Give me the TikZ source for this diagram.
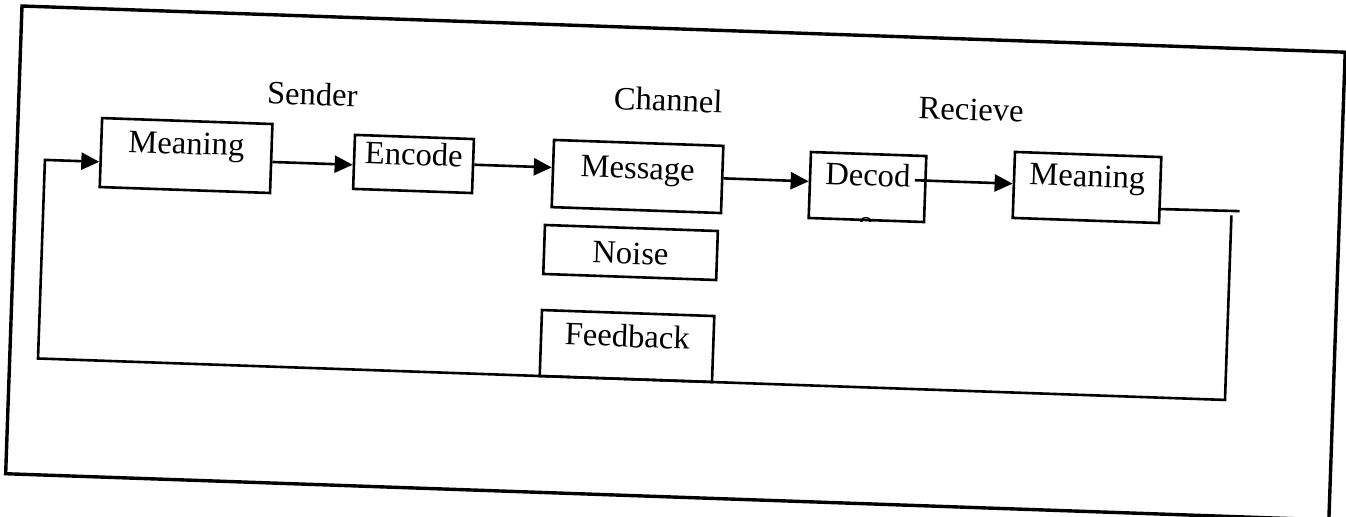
\documentclass[tikz,border=0pt]{standalone}
\usepackage{fontspec}
\setmainfont{Liberation Serif}
\usetikzlibrary{arrows.meta,calc}
\begin{document}
\begin{tikzpicture}[x=0.5pt,y=-0.5pt,line width=1.3pt,
  txtfont/.style={font=\fontsize{16.3pt}{19pt}\selectfont},
  box/.style={draw,rectangle,inner sep=0pt,transform shape,txtfont,text height=11.5pt},
  lbl/.style={inner sep=0pt,transform shape,anchor=base,txtfont},
  arr/.style={-{Triangle[length=9pt,width=8.5pt]}},
  frame/.style={line width=1.7pt}]
\useasboundingbox (0,0) rectangle (1346,516);
\begin{scope}[shift={(22,6)},rotate=-2]
  % outer frame
  \draw[frame] (0,0) -- (1324,0) -- (1324,468) -- (0,468) -- cycle;
  % labels
  \node[lbl] (sender)  at (293.3,88.8) {Sender};
  \node[lbl] (channel) at (649.2,82.4) {Channel};
  \node[lbl] (recv)    at (952.3,81.0) {Recieve};
  % boxes
  \node[box,minimum width=85.2pt,minimum height=34.5pt,text depth=13pt]   (m1)    at (169.2,143.7) {Meaning};
  \node[box,minimum width=59.5pt,minimum height=27pt,text depth=10.4pt]   (enc)   at (396.8,144.2) {Encode};
  \node[box,minimum width=84.7pt,minimum height=33.6pt,text depth=9.4pt]  (msg)   at (621.1,148.9) {Message};
  \node[box,minimum width=57.7pt,minimum height=33pt,text depth=12.5pt]   (dec)   at (851.3,151.4) {Decod};
  \node[box,minimum width=73.2pt,minimum height=33pt,text depth=12pt]     (m2)    at (1070.7,144.2) {Meaning};
  \node[box,minimum width=86.5pt,minimum height=24.5pt,text depth=0pt]    (noise) at (616.8,225.1) {Noise};
  \node[box,minimum width=86.2pt,minimum height=33pt,text depth=10.5pt]   (fb)    at (616.5,318.7) {Feedback};
  % clipped second line of Decode
  \begin{scope}
    \clip (dec.south west) -- (dec.south east) -- (dec.north east) -- (dec.north west) -- cycle;
    \node[lbl] (dece) at (850.7,197.5) {e};
  \end{scope}
  % forward arrows
  \coordinate (a1) at ($(m1.south east)!0.452!(m1.north east)$);
  \draw[arr] (a1) -- ($(enc.south west)!(a1)!(enc.north west)$);
  \coordinate (a2) at ($(enc.south east)!0.524!(enc.north east)$);
  \draw[arr] (a2) -- ($(msg.south west)!(a2)!(msg.north west)$);
  \coordinate (a3) at ($(msg.south east)!0.516!(msg.north east)$);
  \draw[arr] (a3) -- ($(dec.south west)!(a3)!(dec.north west)$);
  \coordinate (a4e) at ($(dec.south east)!0.623!(dec.north east)$);
  \coordinate (a4w) at ($(dec.south west)!0.623!(dec.north west)$);
  \coordinate (a4) at ($(a4e)!0.1!(a4w)$);
  \draw[arr] (a4) -- ($(m2.south west)!(a4)!(m2.north west)$);
  % feedback loop
  \coordinate (out) at ($(m2.south east)!0.223!(m2.north east)$);
  \coordinate (outend) at (1224,162.5);
  \draw (out) -- (outend);
  \coordinate (fbtop) at (1216,167);
  \coordinate (fbR) at (1216,351.7);
  \coordinate (fbL) at (28.3,351.7);
  \coordinate (fbU) at (28.3,153);
  \draw[arr] (fbtop) -- (fbR) -- (fbL) -- (fbU) -- ($(m1.south west)!(fbU)!(m1.north west)$);
\end{scope}
\end{tikzpicture}
\end{document}
